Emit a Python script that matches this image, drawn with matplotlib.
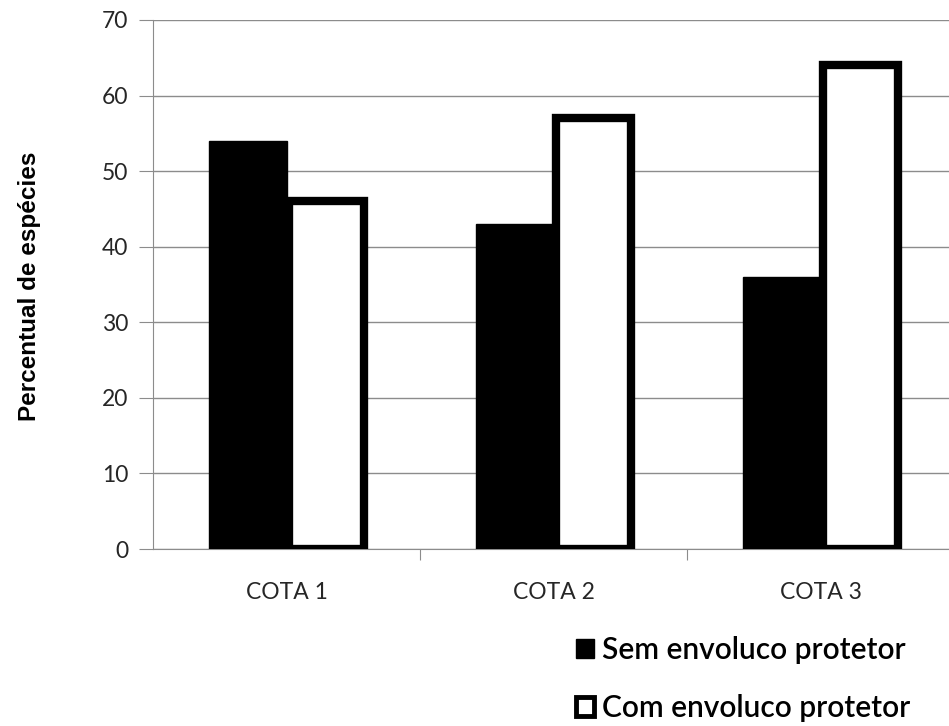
import numpy as np
import matplotlib.pyplot as plt
from matplotlib.patches import Patch

categories = ['COTA 1', 'COTA 2', 'COTA 3']
sem_envolucro = [54, 43, 36]
com_envolucro = [46, 57, 64]
series_labels = ['Sem envoluco protetor', 'Com envoluco protetor']
y_ticks = [0, 10, 20, 30, 40, 50, 60, 70]

plt.rcParams['font.family'] = ['Lato', 'DejaVu Sans']

W, H = 949, 726
fig = plt.figure(figsize=(W / 100, H / 100), dpi=100)
left, right, top, bottom = 153, 954, 20, 549
ax = fig.add_axes([left / W, 1 - bottom / H, (right - left) / W, (bottom - top) / H])

x = np.arange(len(categories))
bw = 0.29
ax.bar(x - bw / 2, sem_envolucro, bw, color='black', edgecolor='black', zorder=3)
ax.bar(x + bw / 2 + 0.005, com_envolucro, bw - 0.01, color='white', edgecolor='black',
       linewidth=6, zorder=3)

ax.set_xlim(-0.5, 2.5)
ax.set_ylim(0, 70)
ax.set_yticks(y_ticks)
ax.set_yticklabels([str(t) for t in y_ticks], fontsize=16.5, color='#262626')
ax.yaxis.grid(True, color='#8c8c8c', linewidth=1)
ax.set_axisbelow(True)

ax.set_xticks([0.5, 1.5])
ax.set_xticklabels([])
ax.tick_params(axis='x', length=8, color='#8c8c8c', direction='out')
ax.tick_params(axis='y', length=10, color='#8c8c8c', direction='out', pad=8)
for i, c in enumerate(categories):
    ax.text(i, -5.8, c, ha='center', va='center', fontsize=16.5, color='#262626')

for s in ['top', 'right']:
    ax.spines[s].set_visible(False)
for s in ['left', 'bottom']:
    ax.spines[s].set_color('#8c8c8c')

fig.text(30 / W, 1 - 286 / H, 'Percentual de espécies', rotation=90,
         ha='center', va='center', fontsize=17.5, fontweight='bold',
         family=['Liberation Sans Narrow', 'Liberation Sans', 'DejaVu Sans'])

handles = [Patch(facecolor='black', edgecolor='black'),
           Patch(facecolor='white', edgecolor='black', linewidth=3.5)]
fig.legend(handles, series_labels, loc='lower right',
           bbox_to_anchor=(910 / W, 1 - 722 / H), frameon=False,
           prop={'size': 21.5, 'weight': 'semibold'}, labelspacing=1.0,
           borderpad=0, borderaxespad=0,
           handlelength=0.6, handleheight=0.6, handletextpad=0.25)

fig.savefig('out.png', dpi=100)
